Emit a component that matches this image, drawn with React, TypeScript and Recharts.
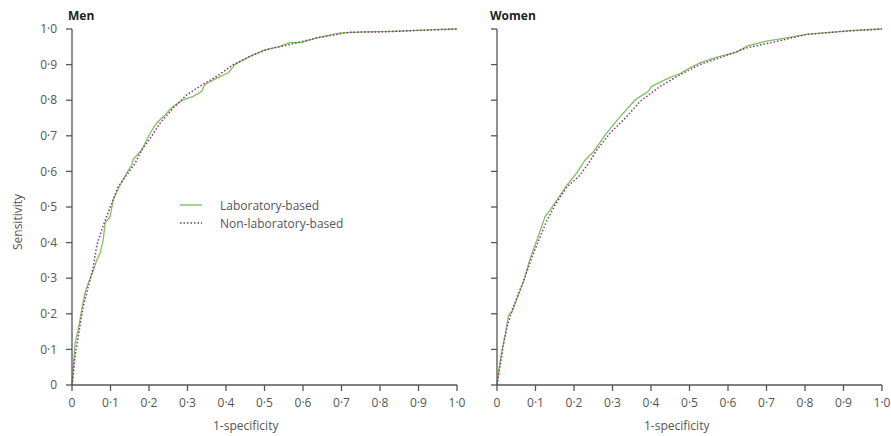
import { LineChart, Line, XAxis, YAxis, Legend } from "recharts";

const xTicks = [0, 0.1, 0.2, 0.3, 0.4, 0.5, 0.6, 0.7, 0.8, 0.9, 1];
const yTicks = [0, 0.1, 0.2, 0.3, 0.4, 0.5, 0.6, 0.7, 0.8, 0.9, 1];

const menLab = [
  [0, 0], [0.008, 0.117], [0.016, 0.154], [0.025, 0.21], [0.034, 0.26], [0.042, 0.285],
  [0.055, 0.32], [0.064, 0.35], [0.073, 0.37], [0.081, 0.407], [0.086, 0.455], [0.099, 0.473],
  [0.107, 0.52], [0.125, 0.562], [0.142, 0.595], [0.155, 0.618], [0.159, 0.634], [0.181, 0.66],
  [0.203, 0.708], [0.22, 0.736], [0.242, 0.759], [0.263, 0.783], [0.289, 0.801], [0.315, 0.811],
  [0.337, 0.825], [0.345, 0.844], [0.376, 0.862], [0.406, 0.877], [0.423, 0.9], [0.462, 0.923],
  [0.497, 0.94], [0.54, 0.951], [0.565, 0.962], [0.595, 0.962], [0.636, 0.975], [0.696, 0.989],
  [0.765, 0.992], [0.852, 0.994], [0.939, 0.998], [1, 1],
];

const menNonLab = [
  [0, 0], [0.002, 0.013], [0.008, 0.08], [0.016, 0.135], [0.029, 0.22], [0.042, 0.275],
  [0.055, 0.33], [0.064, 0.39], [0.077, 0.435], [0.09, 0.473], [0.103, 0.51], [0.12, 0.557],
  [0.142, 0.59], [0.164, 0.623], [0.181, 0.66], [0.203, 0.693], [0.229, 0.736], [0.263, 0.778],
  [0.298, 0.815], [0.332, 0.839], [0.376, 0.867], [0.419, 0.9], [0.462, 0.923], [0.506, 0.942],
  [0.575, 0.959], [0.636, 0.975], [0.722, 0.991], [0.809, 0.992], [0.895, 0.996], [1, 1],
];

const womenLab = [
  [0, 0], [0.006, 0.05], [0.013, 0.097], [0.022, 0.144], [0.03, 0.196], [0.039, 0.205],
  [0.052, 0.243], [0.069, 0.29], [0.082, 0.341], [0.091, 0.37], [0.099, 0.393], [0.108, 0.421],
  [0.125, 0.473], [0.138, 0.492], [0.156, 0.52], [0.182, 0.562], [0.207, 0.595], [0.229, 0.632],
  [0.251, 0.656], [0.285, 0.708], [0.32, 0.754], [0.359, 0.801], [0.393, 0.825], [0.402, 0.839],
  [0.441, 0.86], [0.476, 0.875], [0.501, 0.891], [0.527, 0.905], [0.571, 0.921], [0.623, 0.935],
  [0.649, 0.952], [0.7, 0.966], [0.752, 0.975], [0.804, 0.985], [0.873, 0.991], [0.925, 0.996],
  [1, 1],
];

const womenNonLab = [
  [0, 0], [0.009, 0.06], [0.017, 0.116], [0.026, 0.163], [0.039, 0.21], [0.056, 0.257],
  [0.073, 0.304], [0.091, 0.36], [0.112, 0.416], [0.13, 0.463], [0.151, 0.506], [0.182, 0.557],
  [0.212, 0.585], [0.238, 0.623], [0.259, 0.66], [0.294, 0.708], [0.337, 0.754], [0.372, 0.797],
  [0.424, 0.839], [0.476, 0.872], [0.527, 0.9], [0.588, 0.923], [0.649, 0.947], [0.718, 0.963],
  [0.804, 0.985], [0.908, 0.994], [1, 1],
];

const toPoints = (arr: number[][]) => arr.map(([x, y]) => ({ x, y }));

const FONT = "'Open Sans', sans-serif";
const GREEN = "#7cc35e";
const PURPLE = "#8e3182";
const AXIS = "#555";
const TEXT = "#555";

const fmt = (v: number) => (v === 0 ? "0" : v.toFixed(1).replace(".", "\u00b7"));

const LegendBox = ({ payload }: any) => (
  <div style={{ fontFamily: FONT, fontSize: 12, color: TEXT }}>
    {(payload || []).map((p: any) => (
      <div key={p.value} style={{ display: "flex", alignItems: "center", height: 18 }}>
        <svg width={22} height={4} style={{ marginRight: 18 }}>
          <line
            x1={0}
            y1={2}
            x2={22}
            y2={2}
            stroke={p.color}
            strokeWidth={1.4}
            strokeDasharray={p.payload?.strokeDasharray}
          />
        </svg>
        <span>{p.value}</span>
      </div>
    ))}
  </div>
);

const Panel = ({
  lab,
  nonLab,
  width,
  yWidth,
  marginLeft,
  marginRight,
  showYLabels,
  showLegend,
}: {
  lab: number[][];
  nonLab: number[][];
  width: number;
  yWidth: number;
  marginLeft: number;
  marginRight: number;
  showYLabels: boolean;
  showLegend: boolean;
}) => (
  <LineChart
    width={width}
    height={436}
    margin={{ top: 29, right: marginRight, bottom: 21, left: marginLeft }}
  >
    <XAxis
      dataKey="x"
      type="number"
      domain={[0, 1]}
      ticks={xTicks}
      tickFormatter={fmt}
      height={30}
      tickSize={6}
      tickMargin={7}
      stroke={AXIS}
      strokeWidth={1.3}
      tick={{ fill: TEXT, fontSize: 12, fontFamily: FONT }}
    />
    <YAxis
      dataKey="y"
      type="number"
      domain={[0, 1]}
      ticks={yTicks}
      tickFormatter={showYLabels ? fmt : () => ""}
      width={yWidth}
      tickSize={6}
      tickMargin={9}
      stroke={AXIS}
      strokeWidth={1.3}
      tick={{ fill: TEXT, fontSize: 12, fontFamily: FONT }}
    />
    {showLegend && (
      <Legend
        layout="vertical"
        align="center"
        verticalAlign="middle"
        content={<LegendBox />}
        wrapperStyle={{ left: 180, top: 196, width: 220, height: 40 }}
      />
    )}
    <Line
      data={toPoints(lab)}
      dataKey="y"
      name="Laboratory-based"
      type="linear"
      stroke={GREEN}
      strokeWidth={1.3}
      dot={false}
      isAnimationActive={false}
    />
    <Line
      data={toPoints(nonLab)}
      dataKey="y"
      name="Non-laboratory-based"
      type="linear"
      stroke={PURPLE}
      strokeWidth={1.5}
      strokeDasharray="1.5 2"
      dot={false}
      isAnimationActive={false}
    />
  </LineChart>
);

const label = (text: string, style: React.CSSProperties) => (
  <div
    style={{
      position: "absolute",
      fontFamily: FONT,
      fontSize: 12,
      color: TEXT,
      whiteSpace: "nowrap",
      lineHeight: 1,
      ...style,
    }}
  >
    {text}
  </div>
);

export default function App() {
  return (
    <div
      style={{
        position: "absolute",
        left: 0,
        top: 0,
        width: 891,
        height: 436,
        background: "#fff",
      }}
    >
      <div style={{ position: "absolute", left: 0, top: 0 }}>
        <Panel
          lab={menLab}
          nonLab={menNonLab}
          width={470}
          yWidth={50}
          marginLeft={22}
          marginRight={13}
          showYLabels
          showLegend
        />
      </div>
      <div style={{ position: "absolute", left: 440, top: 0 }}>
        <Panel
          lab={womenLab}
          nonLab={womenNonLab}
          width={451}
          yWidth={40}
          marginLeft={17}
          marginRight={9}
          showYLabels={false}
          showLegend={false}
        />
      </div>
      {label("Men", { left: 68, top: 10, fontWeight: 700, fontSize: 12, color: "#222" })}
      {label("Women", { left: 490, top: 10, fontWeight: 700, fontSize: 12, color: "#222" })}
      {label("1-specificity", { left: 213, top: 420 })}
      {label("1-specificity", { left: 644, top: 420 })}
      {label("Sensitivity", {
        left: 18,
        top: 222,
        transform: "translate(-50%, -50%) rotate(-90deg)",
      })}
    </div>
  );
}
